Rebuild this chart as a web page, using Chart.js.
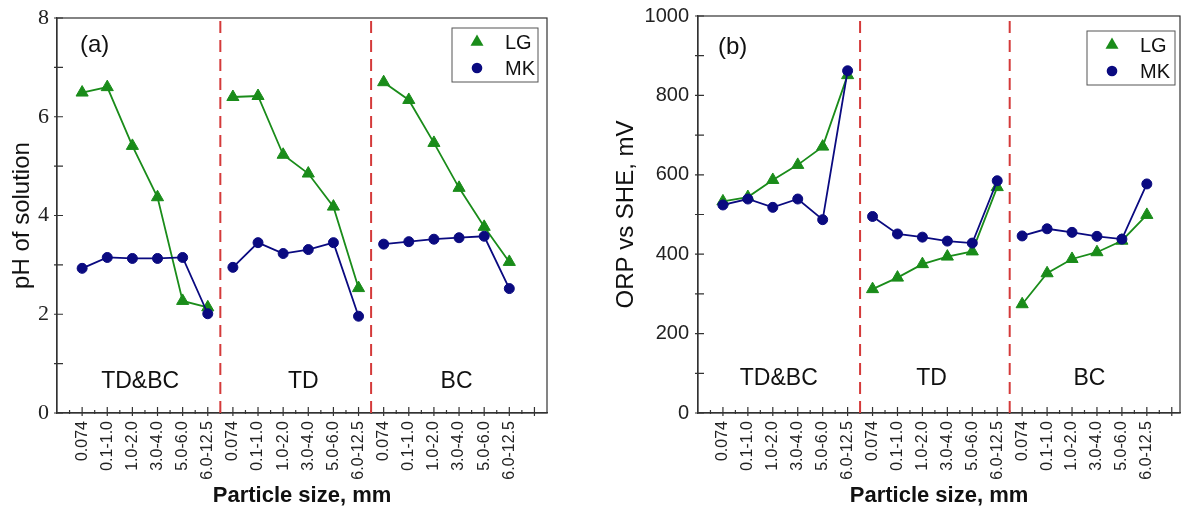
<!DOCTYPE html>
<html>
<head>
<meta charset="utf-8">
<script src="https://cdn.jsdelivr.net/npm/chart.js@4.4.1/dist/chart.umd.min.js"></script>
<style>
  html, body { margin: 0; padding: 0; background: #fff; }
  #wrap { position: relative; width: 1188px; height: 510px; }
  canvas { position: absolute; top: 0; }
</style>
</head>
<body>
<div id="wrap">
  <canvas id="phChart" width="594" height="510" style="left:0"></canvas>
  <canvas id="orpChart" width="594" height="510" style="left:594px"></canvas>
</div>
<script>
const sizeLabels = ["0.074", "0.1-1.0", "1.0-2.0", "3.0-4.0", "5.0-6.0", "6.0-12.5"];
const groupNames = ["TD&BC", "TD", "BC"];
const dividers = [6.5, 12.5];

// pH of solution, groups TD&BC | TD | BC
const lgPH = [6.49, 6.60, 5.41, 4.37, 2.27, 2.14, 6.40, 6.42, 5.23, 4.85, 4.18, 2.53, 6.70, 6.34, 5.47, 4.56, 3.77, 3.06];
const mkPH = [2.93, 3.15, 3.13, 3.13, 3.15, 2.01, 2.95, 3.45, 3.23, 3.31, 3.45, 1.96, 3.42, 3.47, 3.52, 3.55, 3.58, 2.52];

// ORP vs SHE, mV
const lgORP = [533, 544, 587, 625, 671, 851, 312, 341, 375, 394, 407, 569, 274, 352, 388, 405, 434, 499];
const mkORP = [524, 539, 518, 539, 487, 862, 495, 451, 443, 433, 428, 585, 446, 464, 455, 445, 438, 577];

const GREEN = "#1a8c1a";
const NAVY = "#0a0a80";
const RED = "#d43a3a";
const SANS = "'Liberation Sans', Arial, sans-serif";
const SERIF = "'Liberation Serif', 'Times New Roman', serif";

// positions 1..18, with a null between groups so lines don't join across dividers
function toPoints(values) {
  const pts = [];
  values.forEach((v, i) => {
    if (i > 0 && i % sizeLabels.length === 0) pts.push({ x: i + 0.5, y: null });
    pts.push({ x: i + 1, y: v });
  });
  return pts;
}

function dividerPoints(yMin, yMax) {
  const pts = [];
  dividers.forEach((d, i) => {
    if (i > 0) pts.push({ x: (dividers[i - 1] + d) / 2, y: null });
    pts.push({ x: d, y: yMin }, { x: d, y: yMax });
  });
  return pts;
}

const decorPlugin = {
  id: "decor",
  beforeDatasetsDraw(chart) {
    const { ctx, chartArea: a, scales: { x, y } } = chart;
    ctx.save();
    ctx.strokeStyle = "#333";
    ctx.lineWidth = 1.2;
    ctx.strokeRect(a.left, a.top, a.right - a.left, a.bottom - a.top);
    ctx.beginPath();
    x.ticks.forEach((t) => {
      const px = x.getPixelForValue(t.value);
      const major = Number.isInteger(t.value);
      ctx.moveTo(px, a.bottom + (major ? 3 : 1));
      ctx.lineTo(px, a.bottom - (major ? 6 : 3));
    });
    y.ticks.forEach((t) => {
      const py = y.getPixelForValue(t.value);
      ctx.moveTo(a.left - 3, py);
      ctx.lineTo(a.left + 6, py);
    });
    ctx.stroke();
    ctx.restore();
  },
  afterDraw(chart, args, opts) {
    const { ctx, scales: { x } } = chart;
    ctx.save();
    ctx.fillStyle = "#111";
    ctx.textBaseline = "middle";

    ctx.font = `24px ${SANS}`;
    ctx.textAlign = "left";
    ctx.fillText(opts.tag, opts.tagX, opts.tagY);

    ctx.font = `23px ${SANS}`;
    ctx.textAlign = "center";
    groupNames.forEach((g, i) => {
      ctx.fillText(g, x.getPixelForValue(opts.groupX[i]), opts.groupY);
    });

    // legend box
    const L = opts.legend;
    ctx.strokeStyle = "#555";
    ctx.lineWidth = 1;
    ctx.strokeRect(L.x, L.y, L.w, L.h);
    ctx.font = `20px ${SANS}`;
    ctx.textAlign = "left";
    chart.data.datasets.filter((d) => d.inLegend).forEach((d, i) => {
      const cx = L.x + 25;
      const cy = L.y + 14 + i * 26;
      ctx.fillStyle = d.pointBackgroundColor;
      ctx.beginPath();
      if (d.pointStyle === "triangle") {
        const r = 7.5;
        ctx.moveTo(cx, cy - r);
        ctx.lineTo(cx + r * 0.866, cy + r * 0.5);
        ctx.lineTo(cx - r * 0.866, cy + r * 0.5);
        ctx.closePath();
      } else {
        ctx.arc(cx, cy, 5.3, 0, Math.PI * 2);
      }
      ctx.fill();
      ctx.fillStyle = "#111";
      ctx.fillText(d.label, L.x + 53, cy + 1);
    });
    ctx.restore();
  },
};

function makeChart(id, cfg) {
  const halfTicks = [];
  for (let v = 0.5; v <= 19; v += 0.5) halfTicks.push({ value: v });
  const yTicks = [];
  for (let v = cfg.yMin; v <= cfg.yMax; v += cfg.yStep) yTicks.push({ value: v });

  return new Chart(document.getElementById(id), {
    type: "line",
    data: {
      datasets: [
        {
          label: "LG",
          inLegend: true,
          data: toPoints(cfg.lg),
          borderColor: GREEN,
          borderWidth: 1.8,
          pointStyle: "triangle",
          pointRadius: 7,
          pointBackgroundColor: GREEN,
          pointBorderColor: GREEN,
          pointBorderWidth: 1,
          order: 2,
        },
        {
          label: "MK",
          inLegend: true,
          data: toPoints(cfg.mk),
          borderColor: NAVY,
          borderWidth: 1.8,
          pointStyle: "circle",
          pointRadius: 5,
          pointBackgroundColor: NAVY,
          pointBorderColor: NAVY,
          pointBorderWidth: 1,
          order: 1,
        },
        {
          label: "divider",
          data: dividerPoints(cfg.yMin, cfg.yMax),
          borderColor: RED,
          borderWidth: 2,
          borderDash: [12, 7],
          pointRadius: 0,
          order: 3,
        },
      ],
    },
    options: {
      responsive: false,
      animation: false,
      events: [],
      layout: { padding: { left: 0, right: cfg.padRight, top: cfg.padTop, bottom: 0 } },
      plugins: {
        legend: { display: false },
        tooltip: { enabled: false },
        decor: cfg.decor,
      },
      scales: {
        x: {
          type: "linear",
          min: 0,
          max: cfg.xMax,
          afterBuildTicks: (s) => { s.ticks = halfTicks.map((t) => ({ ...t })); },
          afterFit: (s) => { s.height = 97; s.paddingLeft = 0; s.paddingRight = 0; },
          grid: { display: false, drawTicks: false },
          border: { display: true, color: "#333", width: 1.2 },
          ticks: {
            autoSkip: false,
            minRotation: 90,
            maxRotation: 90,
            padding: 8,
            color: "#222",
            font: { family: SANS, size: 16 },
            callback: (v) => (Number.isInteger(v) && v >= 1 && v <= 18 ? sizeLabels[(v - 1) % 6] : ""),
          },
          title: {
            display: true,
            text: "Particle size, mm",
            color: "#111",
            font: { family: SANS, size: 22, weight: "bold" },
            padding: { top: 0, bottom: 1 },
          },
        },
        y: {
          min: cfg.yMin,
          max: cfg.yMax,
          afterBuildTicks: (s) => { s.ticks = yTicks.map((t) => ({ ...t })); },
          afterFit: (s) => { s.width = cfg.yAxisWidth; s.paddingTop = 0; s.paddingBottom = 0; },
          grid: { display: false, drawTicks: false },
          border: { display: true, color: "#333", width: 1.2 },
          ticks: {
            padding: cfg.yTickPad,
            color: "#222",
            font: cfg.yTickFont,
            callback: (v) => (v % cfg.yLabelStep === 0 ? String(v) : ""),
          },
          title: {
            display: true,
            text: cfg.yTitle,
            color: "#111",
            font: { family: SANS, size: 24 },
            padding: { top: cfg.yTitlePad, bottom: 0 },
          },
        },
      },
    },
    plugins: [decorPlugin],
  });
}

makeChart("phChart", {
  lg: lgPH, mk: mkPH,
  yMin: 0, yMax: 8, yStep: 1, yLabelStep: 2,
  xMax: 19.5,
  yTitle: "pH of solution",
  yAxisWidth: 57, padRight: 47, padTop: 18,
  yTickPad: 8, yTitlePad: 7.6,
  yTickFont: { family: SERIF, size: 22 },
  decor: {
    tag: "(a)", tagX: 80, tagY: 45,
    groupX: [3.31, 9.8, 15.9], groupY: 382,
    legend: { x: 452, y: 28, w: 86, h: 54 },
  },
});

makeChart("orpChart", {
  lg: lgORP, mk: mkORP,
  yMin: 0, yMax: 1000, yStep: 100, yLabelStep: 200,
  xMax: 19.33,
  yTitle: "ORP vs SHE, mV",
  yAxisWidth: 104, padRight: 1, padTop: 16,
  yTickPad: 9, yTitlePad: 17.6,
  yTickFont: { family: SANS, size: 20 },
  decor: {
    tag: "(b)", tagX: 124, tagY: 47,
    groupX: [3.24, 9.37, 15.7], groupY: 379,
    legend: { x: 493, y: 31, w: 88, h: 54 },
  },
});
</script>
</body>
</html>
